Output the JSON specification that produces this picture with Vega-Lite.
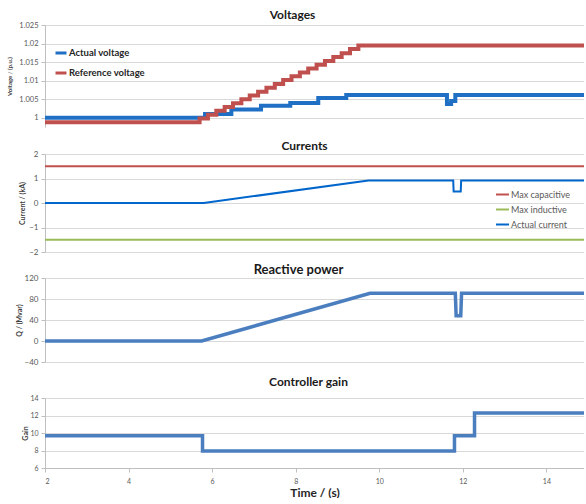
{
  "$schema": "https://vega.github.io/schema/vega-lite/v6.json",
  "padding": {"top": 9, "left": 6, "right": 0, "bottom": 0},
  "spacing": 0,
  "background": "white",
  "resolve": {"scale": {"color": "independent", "strokeWidth": "independent"}, "legend": {"color": "independent", "strokeWidth": "independent"}},
  "config": {
    "view": {"stroke": null},
    "font": "Lato",
    "axis": {
      "gridColor": "#d9d9d9",
      "domainColor": "#bfbfbf",
      "tickColor": "#bfbfbf",
      "labelColor": "#595959",
      "titleColor": "#404040",
      "labelFont": "Lato",
      "titleFont": "Lato",
      "labelFontSize": 8,
      "titleFontSize": 7,
      "tickSize": 4,
      "labelPadding": 3
    },
    "title": {"font": "Lato", "fontWeight": "bold", "color": "#1a1a1a", "anchor": "middle"},
    "legend": {"labelFont": "Lato", "symbolType": "stroke", "title": null}
  },
  "datasets": {
    "volt": [
      {"t": 2, "v": 1.0, "series": "Actual voltage"},
      {"t": 5.83, "v": 1.001, "series": "Actual voltage"},
      {"t": 6.46, "v": 1.0022, "series": "Actual voltage"},
      {"t": 7.17, "v": 1.0032, "series": "Actual voltage"},
      {"t": 7.87, "v": 1.004, "series": "Actual voltage"},
      {"t": 8.54, "v": 1.0053, "series": "Actual voltage"},
      {"t": 9.21, "v": 1.0061, "series": "Actual voltage"},
      {"t": 11.62, "v": 1.0037, "series": "Actual voltage"},
      {"t": 11.72, "v": 1.0045, "series": "Actual voltage"},
      {"t": 11.82, "v": 1.0061, "series": "Actual voltage"},
      {"t": 15, "v": 1.0061, "series": "Actual voltage"},
      {"t": 2, "v": 0.99875, "series": "Reference voltage"},
      {"t": 5.7, "v": 0.9998, "series": "Reference voltage"},
      {"t": 5.9, "v": 1.0008, "series": "Reference voltage"},
      {"t": 6.1, "v": 1.0019, "series": "Reference voltage"},
      {"t": 6.3, "v": 1.0029, "series": "Reference voltage"},
      {"t": 6.5, "v": 1.0039, "series": "Reference voltage"},
      {"t": 6.7, "v": 1.005, "series": "Reference voltage"},
      {"t": 6.9, "v": 1.006, "series": "Reference voltage"},
      {"t": 7.1, "v": 1.007, "series": "Reference voltage"},
      {"t": 7.3, "v": 1.0081, "series": "Reference voltage"},
      {"t": 7.5, "v": 1.0091, "series": "Reference voltage"},
      {"t": 7.7, "v": 1.0102, "series": "Reference voltage"},
      {"t": 7.9, "v": 1.0112, "series": "Reference voltage"},
      {"t": 8.1, "v": 1.0122, "series": "Reference voltage"},
      {"t": 8.3, "v": 1.0133, "series": "Reference voltage"},
      {"t": 8.5, "v": 1.0143, "series": "Reference voltage"},
      {"t": 8.7, "v": 1.0153, "series": "Reference voltage"},
      {"t": 8.9, "v": 1.0164, "series": "Reference voltage"},
      {"t": 9.1, "v": 1.0174, "series": "Reference voltage"},
      {"t": 9.3, "v": 1.0185, "series": "Reference voltage"},
      {"t": 9.5, "v": 1.0195, "series": "Reference voltage"},
      {"t": 15, "v": 1.0195, "series": "Reference voltage"}
    ],
    "curr": [
      {"t": 2, "v": 1.5, "series": "Max capacitive"},
      {"t": 15, "v": 1.5, "series": "Max capacitive"},
      {"t": 2, "v": -1.5, "series": "Max inductive"},
      {"t": 15, "v": -1.5, "series": "Max inductive"},
      {"t": 2, "v": 0, "series": "Actual current"},
      {"t": 5.8, "v": 0, "series": "Actual current"},
      {"t": 9.74, "v": 0.92, "series": "Actual current"},
      {"t": 11.77, "v": 0.92, "series": "Actual current"},
      {"t": 11.78, "v": 0.47, "series": "Actual current"},
      {"t": 11.95, "v": 0.47, "series": "Actual current"},
      {"t": 11.96, "v": 0.92, "series": "Actual current"},
      {"t": 15, "v": 0.92, "series": "Actual current"}
    ],
    "q": [
      {"t": 2, "v": 0},
      {"t": 5.75, "v": 0},
      {"t": 9.78, "v": 91},
      {"t": 11.82, "v": 91},
      {"t": 11.84, "v": 48},
      {"t": 11.95, "v": 48},
      {"t": 11.97, "v": 91},
      {"t": 15, "v": 91}
    ],
    "gain": [
      {"t": 2, "v": 9.7},
      {"t": 5.77, "v": 7.95},
      {"t": 11.8, "v": 9.7},
      {"t": 12.28, "v": 12.3},
      {"t": 15, "v": 12.3}
    ]
  },
  "vconcat": [
    {
      "width": 539,
      "height": 102,
      "title": {"text": "Voltages", "fontSize": 12, "dx": -22, "offset": -1},
      "data": {"name": "volt"},
      "mark": {"type": "line", "interpolate": "step-after", "strokeWidth": 4, "clip": true},
      "encoding": {
        "x": {"field": "t", "type": "quantitative", "scale": {"domain": [2, 14.9], "nice": false},
              "axis": {"labels": false, "ticks": false, "domain": false, "grid": false, "title": null, "minExtent": 13, "maxExtent": 13}},
        "y": {"field": "v", "type": "quantitative", "scale": {"domain": [0.9975, 1.025], "nice": false, "zero": false},
              "axis": {"values": [1, 1.005, 1.01, 1.015, 1.02, 1.025], "format": "~g", "title": "Voltage / (p.u.)", "titleFontSize": 6, "titlePadding": 6, "labelFontSize": 7.5}},
        "color": {"field": "series", "type": "nominal",
                  "scale": {"domain": ["Actual voltage", "Reference voltage"], "range": ["#1f6fc5", "#c0504d"]},
                  "legend": {"orient": "none", "legendX": 9, "legendY": 21, "symbolSize": 121, "symbolStrokeWidth": 3, "labelFontSize": 9.5, "labelColor": "#262626", "labelFontWeight": "bold", "rowPadding": 7, "labelOffset": 1}}
      }
    },
    {
      "width": 539,
      "height": 98,
      "title": {"text": "Currents", "fontSize": 12, "dx": -10, "offset": -3},
      "data": {"name": "curr"},
      "mark": {"type": "line", "clip": true},
      "encoding": {
        "x": {"field": "t", "type": "quantitative", "scale": {"domain": [2, 14.9], "nice": false},
              "axis": {"labels": false, "ticks": false, "domain": false, "grid": false, "title": null, "minExtent": 12, "maxExtent": 12}},
        "y": {"field": "v", "type": "quantitative", "scale": {"domain": [-2, 2], "nice": false},
              "axis": {"values": [-2, -1, 0, 1, 2], "title": "Current / (kA)", "titlePadding": 3}},
        "color": {"field": "series", "type": "nominal",
                  "scale": {"domain": ["Max capacitive", "Max inductive", "Actual current"], "range": ["#c0504d", "#9bbb59", "#0066cc"]},
                  "legend": {"orient": "none", "legendX": 450, "legendY": 33, "symbolSize": 169, "labelFontSize": 9, "labelColor": "#595959", "rowPadding": 2, "labelOffset": 1}},
        "strokeWidth": {"field": "series", "type": "nominal",
                  "scale": {"domain": ["Max capacitive", "Max inductive", "Actual current"], "range": [2, 2, 3.5]},
                  "legend": {"orient": "none", "legendX": 450, "legendY": 33, "symbolSize": 169, "labelFontSize": 9, "labelColor": "#595959", "rowPadding": 2, "labelOffset": 1}}
      }
    },
    {
      "width": 539,
      "height": 84,
      "title": {"text": "Reactive power", "fontSize": 13, "dx": -16, "offset": -3},
      "data": {"name": "q"},
      "mark": {"type": "line", "clip": true, "strokeWidth": 3.5, "color": "#4a7ebf"},
      "encoding": {
        "x": {"field": "t", "type": "quantitative", "scale": {"domain": [2, 14.9], "nice": false},
              "axis": {"labels": false, "ticks": false, "domain": false, "grid": false, "title": null, "minExtent": 14, "maxExtent": 14}},
        "y": {"field": "v", "type": "quantitative", "scale": {"domain": [-40, 120], "nice": false},
              "axis": {"values": [-40, 0, 40, 80, 120], "title": "Q / (Mvar)", "titlePadding": 2}}
      }
    },
    {
      "width": 539,
      "height": 70,
      "title": {"text": "Controller gain", "fontSize": 12, "dx": -6, "offset": 5},
      "data": {"name": "gain"},
      "mark": {"type": "line", "interpolate": "step-after", "clip": true, "strokeWidth": 3.5, "color": "#4a7ebf"},
      "encoding": {
        "x": {"field": "t", "type": "quantitative", "scale": {"domain": [2, 14.9], "nice": false},
              "axis": {"values": [2, 4, 6, 8, 10, 12, 14], "grid": false, "title": "Time / (s)", "titleFontSize": 12, "titleFontWeight": "bold", "titleColor": "#262626", "titlePadding": 3, "labelFontSize": 7, "labelPadding": 5}},
        "y": {"field": "v", "type": "quantitative", "scale": {"domain": [6, 14], "nice": false},
              "axis": {"values": [6, 8, 10, 12, 14], "title": "Gain", "titlePadding": 1, "labelFontSize": 7}}
      }
    }
  ]
}
